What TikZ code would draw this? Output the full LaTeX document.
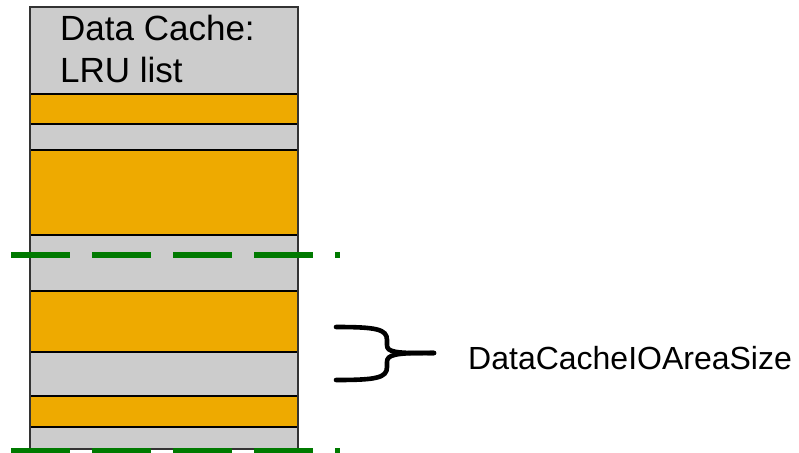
\documentclass[tikz,border=0pt]{standalone}
\usepackage{fontspec}
\setmainfont{Liberation Sans}
\definecolor{cachegray}{HTML}{CCCCCC}
\definecolor{cacheorange}{HTML}{EEAA00}
\definecolor{markgreen}{HTML}{007A00}
\begin{document}
\begin{tikzpicture}[x=1pt,y=-1pt,
  band/.style={draw=black,line width=1.6pt},
  graybandfill/.style={fill=cachegray},
  orangebandfill/.style={fill=cacheorange},
  limitline/.style={draw=markgreen,line width=6pt,dash pattern=on 59pt off 22pt},
  bracepath/.style={draw=black,line width=4.6pt,line cap=round,line join=miter},
  label/.style={inner sep=0pt,font=\fontsize{32}{37}\selectfont}]
\useasboundingbox (0,0) rectangle (799,452);
\clip (0,0) rectangle (799,452);

% stack of cache entries, top to bottom
\path[graybandfill]   (30,7)   rectangle (298,94);
\path[orangebandfill] (30,94)  rectangle (298,124);
\path[graybandfill]   (30,124) rectangle (298,150);
\path[orangebandfill] (30,150) rectangle (298,235);
\path[graybandfill]   (30,235) rectangle (298,291);
\path[orangebandfill] (30,291) rectangle (298,352);
\path[graybandfill]   (30,352) rectangle (298,396);
\path[orangebandfill] (30,396) rectangle (298,427);
\path[graybandfill]   (30,427) rectangle (298,449);

% separators between entries
\foreach \yy in {94,124,150,235,291,352,396,427}
  \draw[band] (30,\yy) -- (298,\yy);

% outer frame
\draw[draw=black!80,line width=1.5pt] (30,7) rectangle (298,449);

% header text
\node[anchor=base west,inner sep=0pt,font=\fontsize{35}{41}\selectfont] (title1) at (60,41) {Data Cache:};
\node[anchor=base west,inner sep=0pt,font=\fontsize{35}{41}\selectfont] (title2) at (60,82) {LRU list};

% I/O area limits
\coordinate (lim1a) at (11,255);
\coordinate (lim1b) at (340,255);
\coordinate (lim2a) at (11,450.5);
\coordinate (lim2b) at (340,450.5);
\draw[limitline] (lim1a) -- (lim1b);
\draw[limitline] (lim2a) -- (lim2b);

% label and brace
\node[label,anchor=base west] (ioarea) at (468,369) {DataCacheIOAreaSize};
\coordinate (tip) at (434,353);
\draw[bracepath] (336,327) .. controls (376,327) and (387,329) .. (387,340)
  -- (387,345) .. controls (387,352) and (394,353.5) .. (tip);
\draw[bracepath] (336,380) .. controls (376,380) and (387,378) .. (387,367)
  -- (387,362) .. controls (387,355) and (394,352.5) .. (tip);
\end{tikzpicture}
\end{document}
